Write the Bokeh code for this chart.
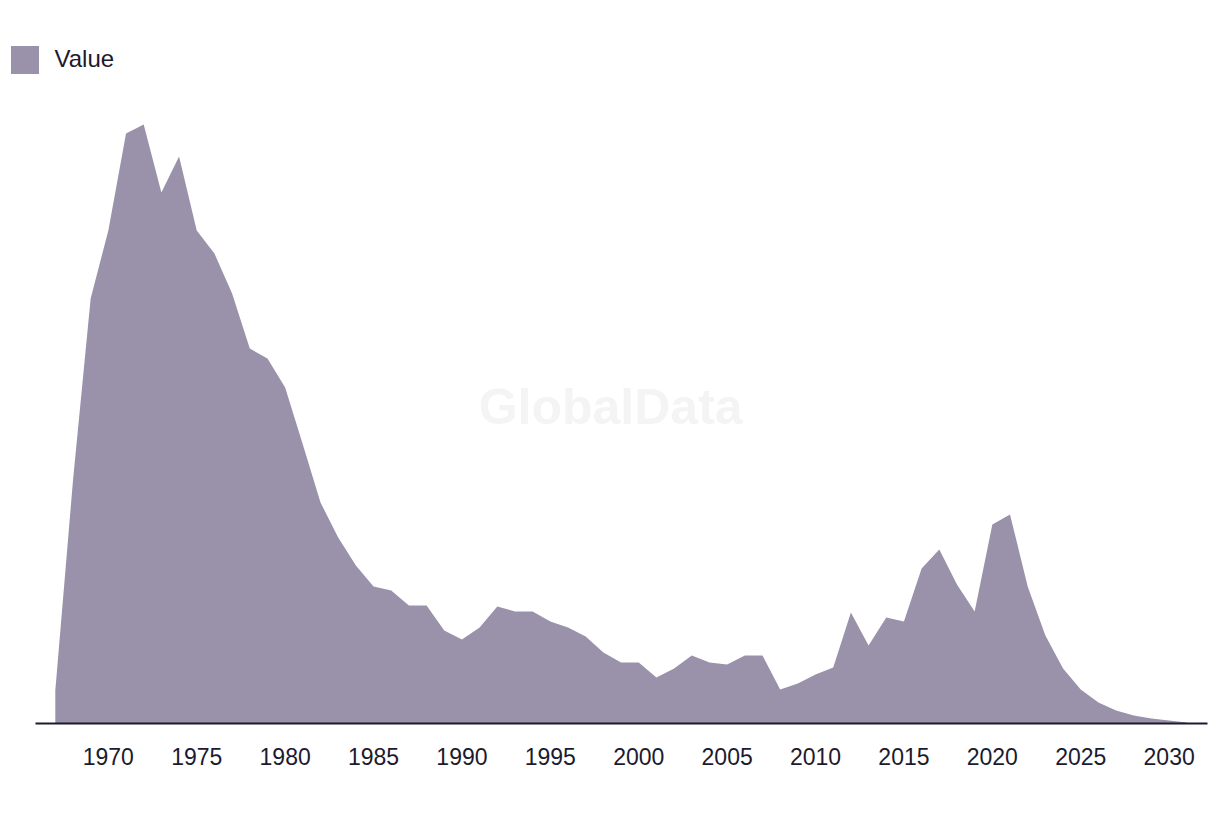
from bokeh.plotting import figure
from bokeh.models import Range1d, FixedTicker, Legend, LegendItem, Label
from bokeh.embed import file_html
from bokeh.resources import INLINE

years = list(range(1967, 2032))
values = [33, 243, 425, 493, 590, 599, 531, 567, 493, 470,
          430, 375, 365, 336, 279, 221, 186, 158, 137, 133,
          118, 118, 93, 84, 96, 117, 112, 112, 102, 96,
          87, 71, 61, 61, 46, 55, 68, 61, 59, 68,
          68, 34, 40, 49, 56, 111, 78, 106, 102, 155,
          174, 139, 112, 199, 209, 137, 88, 55, 34, 21,
          13, 8, 5, 3, 1]
tick_years = [1970, 1975, 1980, 1985, 1990, 1995, 2000, 2005, 2010, 2015, 2020, 2025, 2030]
series_name = "Value"
watermark = "GlobalData"

AREA = "#9a91aa"
INK = "#1c1a2e"
NAN = float("nan")

p = figure(width=1220, height=814, output_backend="svg", toolbar_location=None,
           x_range=Range1d(1963.90, 2032.17), y_range=Range1d(0, 723),
           min_border_left=0, min_border_right=13, min_border_top=0,
           min_border_bottom=91, y_axis_location=None)
p.outline_line_color = None
p.grid.visible = False
p.background_fill_color = "white"
p.border_fill_color = "white"

wm = Label(x=1998.41, y=317, text=watermark, text_align="center", text_baseline="middle",
           text_font="Liberation Sans", text_font_style="bold", text_font_size="50px",
           text_color="#f4f4f4", level="underlay")
p.add_layout(wm)

p.varea(x=years, y1=0, y2=values, fill_color=AREA, fill_alpha=1.0)
# legend-only swatch renderer (no visible data)
swatch = p.quad(left=[NAN], right=[NAN], top=[NAN], bottom=[NAN],
                fill_color=AREA, line_color=None)

xa = p.xaxis[0]
xa.ticker = FixedTicker(ticks=tick_years)
xa.bounds = (1965.88, 2032.17)
xa.major_tick_line_color = None
xa.minor_tick_line_color = None
xa.axis_line_color = INK
xa.axis_line_width = 2
xa.major_label_text_font = "Liberation Sans"
xa.major_label_text_font_size = "23px"
xa.major_label_text_color = INK
xa.major_label_standoff = 18

legend = Legend(items=[LegendItem(label=series_name, renderers=[swatch], index=0)],
                location=(6.5, 646.5), padding=0, margin=0, border_line_color=None,
                background_fill_alpha=0, glyph_width=35, glyph_height=35,
                label_standoff=13, label_text_font="Liberation Sans",
                label_text_font_size="24px", label_text_color=INK,
                label_text_baseline="middle")
p.add_layout(legend)

open("out.html", "w").write(file_html(p, INLINE))
